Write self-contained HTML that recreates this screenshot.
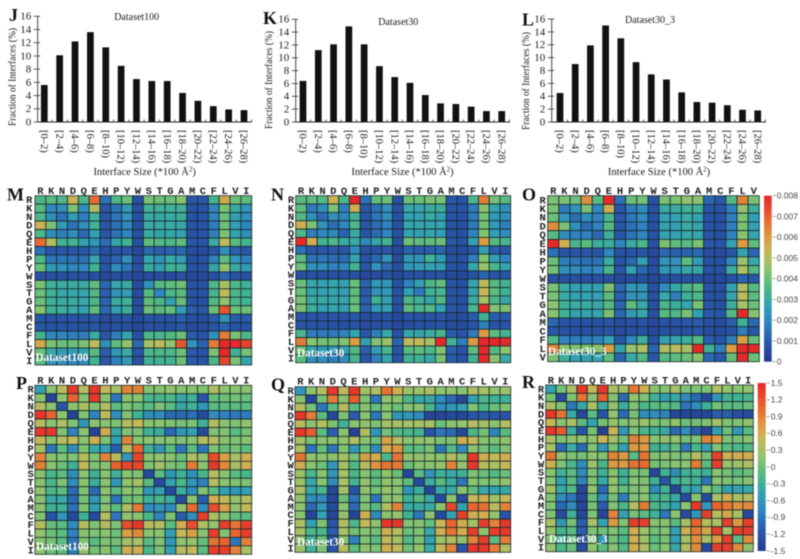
<!DOCTYPE html>
<html lang="en">
<head>
<meta charset="utf-8">
<title>Interface size distributions and residue contact heatmaps</title>
<style>
html,body{margin:0;padding:0;background:#fff;}
svg{display:block;filter:blur(0.45px);}
text{font-family:"Liberation Serif",serif;fill:#1a1a1a;}
.mono{font-family:"Liberation Mono",monospace;font-weight:bold;font-size:10.5px;fill:#222;}
.letter{font-weight:bold;font-size:18px;fill:#111;}
.overlay{font-weight:bold;font-size:11.2px;fill:#fff;}
.cb{font-family:"Liberation Sans",sans-serif;font-size:8.5px;fill:#444;}
</style>
</head>
<body>
<svg id="fig" width="800" height="559" viewBox="0 0 800 559" xmlns="http://www.w3.org/2000/svg"></svg>
<script>
// ---------- data ----------
const sizeBins = ["[0–2)","[2–4)","[4–6)","[6–8)","[8–10)","[10–12)","[12–14)","[14–16)","[16–18)","[18–20)","[20–22)","[22–24)","[24–26)","[26–28)"];
const yTicks = [0,2,4,6,8,10,12,14,16];
const dataset100Sizes = [5.6,10.1,12.2,13.6,11.3,8.5,6.5,6.2,6.2,4.4,3.2,2.4,1.9,1.8];
const dataset30Sizes = [6.4,11.2,12.1,14.9,12.1,8.7,7,6.1,4.2,2.9,2.8,2.4,1.7,1.7];
const dataset303Sizes = [4.5,9,11.9,15,13,9.3,7.4,6.6,4.6,3.1,3,2.6,1.9,1.8];

const residues20 = ["R","K","N","D","Q","E","H","P","Y","W","S","T","G","A","M","C","F","L","V","I"];
const residues19 = ["R","K","N","D","Q","E","H","P","Y","W","S","T","G","A","M","C","F","L","V"];

// Symmetric matrices stored as lower triangles. Contact values are in units of 0.001.
const contact100 = [
[3.5],
[3.7,2],
[3.5,2.2,1.5],
[5.5,4.2,2.5,1.5],
[3.5,2.2,1.8,2.2,1.3],
[6.8,5,3.2,3.3,2.7,2.4],
[1.5,.9,.9,.9,.9,1.4,.7],
[3.5,1.6,1.6,1.5,1.5,2.8,.8,1.2],
[4,2.5,2.3,2,2,3.3,.9,2.2,1.6],
[.7,.7,.7,.7,.7,.7,.5,.6,.7,.5],
[4.2,3.2,3,3,3,3.8,1.3,2.8,3,.6,2.2],
[4,3.2,2.9,2.9,2.8,3.6,1.1,2.3,2.6,.6,3.7,2],
[4,3.2,3,3,2.9,3.5,1.2,3,3.2,.6,3.8,3.5,2.7],
[4.4,3.2,3.1,2.9,2.7,3.8,1.3,2.6,3.1,.7,4,3.7,3.9,2.6],
[.9,.8,.8,.8,.8,.9,.6,.7,.8,.5,.8,.8,.8,1.1,.7],
[.9,.8,.8,.8,.8,.9,.6,.7,.7,.5,.7,.7,.7,.9,.6,.6],
[3.3,2,2,1.8,1.8,3,.9,1.8,2.8,.7,3.5,3.4,3.6,4,1,.8,2.2],
[5.7,4.2,4,4,4.2,5.2,2.2,3.8,4.5,1.3,4.8,5.2,4.5,7.2,2.3,1.2,6.5,8],
[4,3,2.6,2.6,2.7,3.7,1.1,2.4,3,.8,3.5,3.5,3.5,4,1,.8,4.2,8,3.2],
[3.8,2.4,2.2,2,2.2,3.3,.9,1.8,2.5,.7,3.2,3.3,3.3,4,1,.8,3.5,7.5,4.2,2.8]
];
const contact30 = [
[3.7],
[3.8,1.7],
[3.6,2.2,1.4],
[5.6,4.2,2.3,1.4],
[3.5,1.8,2,2,1.2],
[8,5.6,3.3,3.5,3,3],
[1.5,.9,.9,.9,.9,2.1,.7],
[3.8,1.5,1.6,1.4,1.4,2.8,.8,1.3],
[4,2.2,2.2,1.9,2,3.3,.9,2.3,1.4],
[.7,.7,.7,.7,.7,.7,.5,.6,.7,.5],
[4,2.9,2.7,2.8,2.7,4,1.2,2.4,2.4,.7,1.9],
[4,2.8,2.7,2.8,2.6,3.8,1,2.3,2.5,.7,2.6,1.7],
[4.2,3,3,2.8,2.8,3.8,1.1,3.2,2.7,.7,3.5,3.2,2.8],
[4.2,3.1,2.7,2.8,2.6,4,1.2,2.5,2.6,.7,3.8,3.4,3.6,2.7],
[.9,.8,.8,.8,.8,.9,.6,.7,.8,.5,.8,.8,.8,.9,.6],
[.8,.8,.8,.7,.7,.8,.6,.7,.7,.5,.7,.7,.7,.8,.6,.6],
[3.4,1.7,1.7,1.7,1.9,2.7,.9,1.8,2.9,.7,2.8,2.8,3,3.4,1,.8,1.7],
[6.5,4.4,4.1,4.1,4.3,6,2.7,4.3,4.6,1.2,5.2,5.3,4.8,8,3.2,1.8,6,8],
[4.1,2.8,2.5,2.5,2.6,3.6,1.1,2.6,3.4,.8,3.7,3.8,3.5,4.3,1.1,.8,3.8,8,3.6],
[3.7,2.2,2.2,1.8,2.1,3.4,.9,1.9,2.8,.8,3.3,3.2,2.9,4.2,1,.8,3.3,8,4.4,3]
];
const contact303 = [
[4.2],
[4.2,1.7],
[4,2.4,1.4],
[6.2,4.2,2.2,1.4],
[3.7,2.1,1.9,1.9,1.3],
[8,5.6,3.4,3.7,3.1,3.1],
[1.5,.9,.9,.9,.9,2,.7],
[4,1.8,1.6,1.5,1.5,3,.8,1.3],
[4.1,2.2,2.1,1.9,2,3.4,.9,2.6,1.3],
[.7,.7,.7,.7,.7,.7,.5,.6,.7,.5],
[4.2,3,2.7,2.7,2.7,4.2,1.3,2.4,2.4,.7,2.1],
[4.2,3,2.7,2.7,2.7,3.8,1.1,2.3,2.4,.7,2.9,1.8],
[4.5,3.2,3,3,2.9,3.7,1.2,3.8,2.9,.7,3.4,3.1,2.8],
[4.4,3.2,2.7,2.8,2.8,4.2,1.3,2.5,2.9,.7,3.7,3.5,4.2,2.7],
[1.3,.8,.8,.8,.8,.9,.6,.7,.8,.5,.8,.8,.9,1,.7],
[.9,.8,.7,.7,.7,.8,.6,.7,.7,.5,.7,.7,.7,.9,.6,.6],
[3.6,1.9,1.8,1.8,1.9,2.7,.9,2,3.1,.7,2.7,2.8,3.1,3.6,1.1,.8,1.8],
[6.4,4.5,4.2,4.2,4.4,6,2.8,4.6,4.9,1.2,5,5.2,4.8,8,3.2,1.8,5.9,8],
[4.2,3.1,2.6,2.7,2.8,3.8,1.2,2.9,3.6,.9,3.7,3.8,4,4.4,1.3,.9,3.9,8,4]
];
const score100 = [
[-.5],
[.15,-1.4],
[.4,.15,-1.2],
[1.4,1.1,.15,-1.4],
[.4,.15,.35,.1,-.6],
[1.4,1.4,.1,-.8,.15,-1.4],
[.5,.15,.4,.45,.15,.6,.1],
[.3,-.9,-.1,-.7,.1,-.4,-.5,-1.1],
[.9,.15,.1,.1,.4,.1,.9,.4,-.6],
[.9,.15,0,-.3,.5,.1,.15,1.1,1.3,1.3],
[.15,-.2,-.1,-.7,.15,-.3,.15,-.3,.15,.1,-1.3],
[.15,-.2,.1,-.7,.15,-.35,.15,-.6,.2,.3,-.1,-1.3],
[.2,-.2,-.1,-1,.1,-1,.15,-.1,.15,.1,-.6,-.5,-1.3],
[.15,-.4,-.4,-1,.05,-.6,.1,-.9,0,.05,-.3,-.2,-.35,-1.3],
[.15,-.3,-.3,-.95,.1,-.5,.15,-.1,.35,.95,-.7,-.6,-.7,.15,1.05],
[.1,-1.2,-.6,-1.3,-.3,-1.3,.4,-.9,.2,.15,-.2,-.8,.1,-1.1,-.7,1.35],
[.4,-.05,-.1,-.7,.4,.1,.4,.1,1.25,1.4,.4,.4,-.1,.6,1.25,.35,.2],
[.2,0,-.1,-.8,.15,.1,.15,0,.7,.85,.15,.15,-.5,.5,.7,.15,1.35,.1],
[.15,.05,-.1,-.9,.1,-.1,.1,.05,.3,.3,-.1,.1,-.6,.2,.2,-.05,1,1.1,-.9],
[.15,0,-.1,-.85,.2,.05,.15,-.1,.6,.6,-.2,.1,-.5,.4,.5,-.1,1.35,1.35,.9,.3]
];
const score30 = [
[-.6],
[.15,-1.35],
[.4,.05,-.9],
[1.4,.95,-.1,-1.35],
[.45,.15,.4,.1,-.3],
[1.4,1.15,-.1,-1.1,.15,-1.4],
[.3,.1,.15,.15,.2,.4,.15],
[.35,-.9,-.05,-.9,.1,-.6,0,-.7],
[1,.2,.15,.15,.3,.05,.7,.6,-.2],
[.6,.15,0,-.6,.3,-.15,.4,.8,1,.95],
[.25,-.2,.15,-.6,.3,-.2,.15,-.1,.2,0,-1.35],
[.25,-.4,.15,-.7,.3,-.25,.2,-.05,.2,.15,-.1,-1.3],
[.35,-.4,-.2,-1.35,.3,-1.2,.2,.05,.2,.15,-.6,-.35,-1.35],
[.2,-.7,-.7,-1.35,0,-.9,.1,-.9,.15,.2,-.3,-.1,-.4,-1.3],
[.2,-1,-.6,-1.3,.15,-1,.1,-.15,.4,.9,-.4,-.35,-.4,.15,1.3],
[.15,-1.35,-.5,-1.35,.2,-1.35,.6,-.7,.15,.2,-.3,-.9,.15,-1.3,-.5,1.35],
[.35,-.5,.1,-1.2,.4,-.2,.5,.15,1.4,1.4,.1,.15,-.05,.5,1.1,.6,.3],
[.3,-.2,-.2,-1.1,.3,.05,.15,.05,.6,.4,0,.1,-.4,.6,1,.6,1.35,.2],
[.2,-.3,0,-1.2,.15,-.8,.1,-.1,.5,.3,-.15,.1,-.5,.25,.4,.2,.9,1.35,-.1],
[.25,-.3,.1,-1.2,.4,-.1,.2,.1,.6,.5,0,.2,-.4,.5,.9,-1.2,1.4,1.4,.95,.35]
];
const score303 = [
[-.5],
[.05,-1.3],
[.35,.1,-.9],
[1.4,1,-.4,-1.35],
[.5,.15,.35,-.1,-.5],
[1.4,1.15,-.35,-1.2,.05,-1.4],
[.35,.1,.2,.2,.2,.55,.3],
[.3,-1,-.35,-1,.1,-.6,.05,-.5],
[1,.2,.1,.05,.2,.1,.9,.75,-.1],
[.6,.1,-.2,-.7,.25,-.2,.75,.75,1,1.05],
[.15,-.3,-.1,-.7,.1,-.3,.15,-.3,.1,.05,-1.35],
[.15,-.5,-.1,-.8,.1,-.4,.2,-.3,.15,.1,-.3,-1.2],
[.3,-.4,-.15,-1.35,.2,-1,.2,-.05,.1,.15,-.7,-.3,-1.35],
[.1,-.7,-.9,-1.35,0,-.7,.05,-.85,.1,.15,-.3,-.2,-.4,-1.3],
[.1,-1,-.7,-1.35,.05,-1.1,.1,-.2,.4,.95,-.2,-.3,-.5,.15,1.4],
[.1,-1.3,-.3,-1.35,.1,-1.35,.9,-.5,.05,-.1,-.3,-.9,.15,-1.3,-.6,1.35],
[.35,-.6,.05,-1.1,.3,-.5,.75,.1,1.35,1.35,.15,.15,-.1,.3,1.1,.4,.35],
[.2,-.25,-.1,-1.1,.1,0,.1,-.1,.6,.25,.05,.1,-.5,.6,.95,.65,1.35,.3],
[.15,-.3,-.1,-1.25,.1,-.6,.05,-.2,.6,.25,-.1,.05,-.5,.3,.8,.3,.75,1.35,-.1],
[.2,-.2,0,-1.3,.2,-.1,.15,-.15,.6,.35,0,.15,-.4,.4,.85,-1.3,1.35,1.35,.85,.2]
];
const contactTicks = ["0","0.001","0.002","0.003","0.004","0.005","0.006","0.007","0.008"];
const scoreTicks = ["-1.5","-1.2","-0.9","-0.6","-0.3","0","0.3","0.6","0.9","1.2","1.5"];

// ---------- drawing helpers ----------
const svg = document.getElementById('fig');
const NS = 'http://www.w3.org/2000/svg';
function add(parent, tag, props, txt){
  const el = document.createElementNS(NS, tag);
  for (const k in props) el.setAttribute(k, props[k]);
  if (txt !== undefined) el.textContent = txt;
  parent.appendChild(el);
  return el;
}
function linear(d0, d1, r0, r1){ return v => r0 + (v - d0) * (r1 - r0) / (d1 - d0); }

const rampStops = [[0,'#24398f'],[.12,'#2a58aa'],[.24,'#3084c0'],[.34,'#34a2b2'],[.41,'#42b292'],[.46,'#58ba82'],[.5,'#6cbf78'],[.55,'#8ac370'],[.6,'#a6c066'],[.67,'#c6b858'],[.75,'#dd9a42'],[.86,'#e8662f'],[1,'#e5282a']];
function hex2(c){ return [1,3,5].map(i => parseInt(c.slice(i, i + 2), 16)); }
function ramp(t){
  t = Math.max(0, Math.min(1, t));
  for (let i = 1; i < rampStops.length; i++){
    if (t <= rampStops[i][0]){
      const a = rampStops[i-1], b = rampStops[i], f = (t - a[0]) / (b[0] - a[0]);
      const ca = hex2(a[1]), cb = hex2(b[1]);
      return 'rgb(' + ca.map((v, k) => Math.round(v + (cb[k] - v) * f)).join(',') + ')';
    }
  }
  return rampStops[rampStops.length - 1][1];
}

function barChart(cfg){
  const g = add(svg, 'g', {});
  
  
  const y = linear(0, 16, cfg.y0, cfg.y16);
  const x = linear(0, sizeBins.length - 1, cfg.first, cfg.last);
  const step = x(1) - x(0);
  cfg.values.forEach((v, i) => {
    const bar = add(g, 'rect', {x: x(i) - 3.35, y: y(v), width: 6.7, height: cfg.y0 - y(v), fill: '#111'});
    
    
    const tick = add(g, 'line', {x1: x(i) + step / 2, x2: x(i) + step / 2, y1: cfg.y0 - 2.5, y2: cfg.y0, stroke: '#333', 'stroke-width': .8});
    
    
    const lab = add(g, 'text', {transform: 'translate(' + (x(i) - 3.4) + ',130) rotate(90)', 'font-size': 10.5}, sizeBins[i]);
    
    
  });
  const yAxis = add(g, 'line', {x1: cfg.axis, x2: cfg.axis, y1: y(16), y2: cfg.y0, stroke: '#333', 'stroke-width': .9});
  
  
  const xAxis = add(g, 'line', {x1: cfg.axis, x2: cfg.end, y1: cfg.y0, y2: cfg.y0, stroke: '#222', 'stroke-width': 1});
  
  
  yTicks.forEach(t => {
    const tk = add(g, 'line', {x1: cfg.axis - 4, x2: cfg.axis + 2.5, y1: y(t), y2: y(t), stroke: '#333', 'stroke-width': .8});
    
    
    const lab = add(g, 'text', {x: cfg.axis - 6.5, y: y(t) + 3.4, 'font-size': 11, 'text-anchor': 'end'}, t);
    
    
  });
  const title = add(g, 'text', {x: cfg.titleX, y: cfg.titleY, 'font-size': 10, 'text-anchor': 'middle'}, cfg.title);
  
  
  const yt = add(g, 'text', {transform: 'translate(' + cfg.yTitleX + ',' + cfg.yTitleY + ') rotate(-90)', 'font-size': 10.5, 'text-anchor': 'middle', textLength: 98, lengthAdjust: 'spacingAndGlyphs'}, 'Fraction of Interfaces (%)');
  
  
  const xt = add(g, 'text', {x: cfg.xTitleX, y: 175, 'font-size': 10.5, 'text-anchor': 'middle'});
  
  
  add(xt, 'tspan', {}, 'Interface Size (*100 Å');
  add(xt, 'tspan', {dy: -3.5, 'font-size': 7}, '2');
  add(xt, 'tspan', {dy: 3.5}, ')');
  const letter = add(g, 'text', {x: cfg.letterX, y: cfg.letterY, class: 'letter'}, cfg.letter);
  
  
}

function heatmap(cfg){
  const g = add(svg, 'g', {});
  
  
  const n = cfg.labels.length;
  const colX = linear(0, n, cfg.x0, cfg.x1);
  const rowY = linear(0, n, cfg.y0, cfg.y1);
  const color = linear(cfg.dMin, cfg.dMax, 0, 1);
  const w = colX(1) - colX(0), h = rowY(1) - rowY(0);
  for (let r = 0; r < n; r++){
    for (let c = 0; c < n; c++){
      const v = cfg.values[Math.max(r, c)][Math.min(r, c)];
      const cell = add(g, 'rect', {x: colX(c), y: rowY(r), width: w, height: h, fill: ramp(color(v)), stroke: '#16282c', 'stroke-width': .8});
      
      
    }
  }
  cfg.labels.forEach((l, i) => {
    const top = add(g, 'text', {x: colX(i) + w / 2, y: cfg.topY, class: 'mono', 'text-anchor': 'middle'}, l);
    
    
    const side = add(g, 'text', {x: cfg.rowX, y: rowY(i) + h / 2 + 3.2, class: 'mono', 'text-anchor': 'middle'}, l);
    
    
  });
  const ov = add(g, 'text', {x: cfg.ovX, y: cfg.ovY, class: 'overlay'}, cfg.overlay);
  
  
  const letter = add(g, 'text', {x: cfg.letterX, y: cfg.letterY, class: 'letter'}, cfg.letter);
  
  
}

function colorbar(cfg){
  const g = add(svg, 'g', {});
  
  
  const defs = add(g, 'defs', {});
  const grad = add(defs, 'linearGradient', {id: cfg.name + '-grad', x1: 0, y1: 1, x2: 0, y2: 0});
  rampStops.forEach(s => add(grad, 'stop', {offset: s[0], 'stop-color': s[1]}));
  const strip = add(g, 'rect', {x: cfg.x, y: cfg.top, width: cfg.w, height: cfg.bottom - cfg.top, fill: 'url(#' + cfg.name + '-grad)'});
  
  
  const y = linear(0, cfg.ticks.length - 1, cfg.bottom, cfg.top);
  cfg.ticks.forEach((t, i) => {
    const tk = add(g, 'line', {x1: cfg.x + cfg.w + 1, x2: cfg.x + cfg.w + 4, y1: y(i), y2: y(i), stroke: '#777', 'stroke-width': .7});
    
    
    const lab = add(g, 'text', {x: cfg.x + cfg.w + 5, y: y(i) + 2.8, class: 'cb'}, t);
    
    
  });
}

// ---------- panels ----------
barChart({name:'dataset100', title:'Dataset100', letter:'J', values:dataset100Sizes, axis:37.7, end:251.7, y0:122, y16:16.3, first:44.3, last:244, titleX:136.7, titleY:20, yTitleX:15.5, yTitleY:77, xTitleX:144.7, letterX:9, letterY:21});
barChart({name:'dataset30', title:'Dataset30', letter:'K', values:dataset30Sizes, axis:295.7, end:510, y0:122, y16:19.3, first:303, last:501.7, titleX:398.3, titleY:25, yTitleX:272, yTitleY:80, xTitleX:402.5, letterX:263, letterY:24});
barChart({name:'dataset30-3', title:'Dataset30_3', letter:'L', values:dataset303Sizes, axis:551.7, end:766, y0:122, y16:19, first:560, last:757.7, titleX:650, titleY:23, yTitleX:529, yTitleY:81, xTitleX:659, letterX:522, letterY:25.5});

heatmap({name:'contact-100', letter:'M', overlay:'Dataset100', labels:residues20, values:contact100, dMin:0, dMax:8, x0:35, x1:251.7, y0:195.7, y1:365, topY:194, rowX:29.3, ovX:35.5, ovY:361, letterX:7, letterY:200.7});
heatmap({name:'contact-30', letter:'N', overlay:'Dataset30', labels:residues20, values:contact30, dMin:0, dMax:8, x0:295.7, x1:510.7, y0:195.7, y1:362.7, topY:194, rowX:291, ovX:297, ovY:356.7, letterX:271, letterY:200.7});
heatmap({name:'contact-30-3', letter:'O', overlay:'Dataset30_3', labels:residues19, values:contact303, dMin:0, dMax:8, x0:547.7, x1:759.3, y0:195.7, y1:361.7, topY:194, rowX:542.7, ovX:548, ovY:355, letterX:522, letterY:200.7});
heatmap({name:'score-100', letter:'P', overlay:'Dataset100', labels:residues20, values:score100, dMin:-1.5, dMax:1.5, x0:35, x1:251.7, y0:385.3, y1:554.3, topY:383.3, rowX:30.7, ovX:36, ovY:550, letterX:16, letterY:389});
heatmap({name:'score-30', letter:'Q', overlay:'Dataset30', labels:residues20, values:score30, dMin:-1.5, dMax:1.5, x0:295, x1:510.7, y0:386.7, y1:552.3, topY:384.3, rowX:290.7, ovX:297, ovY:545.7, letterX:271, letterY:390.7});
heatmap({name:'score-30-3', letter:'R', overlay:'Dataset30_3', labels:residues20, values:score303, dMin:-1.5, dMax:1.5, x0:545.7, x1:753.3, y0:385, y1:551.7, topY:383.3, rowX:541, ovX:549, ovY:542.7, letterX:522, letterY:388});

colorbar({name:'contact-colorbar', ticks:contactTicks, x:764, w:7.7, top:195.7, bottom:361.7});
colorbar({name:'score-colorbar', ticks:scoreTicks, x:757.7, w:8, top:383, bottom:551});
</script>
</body>
</html>
